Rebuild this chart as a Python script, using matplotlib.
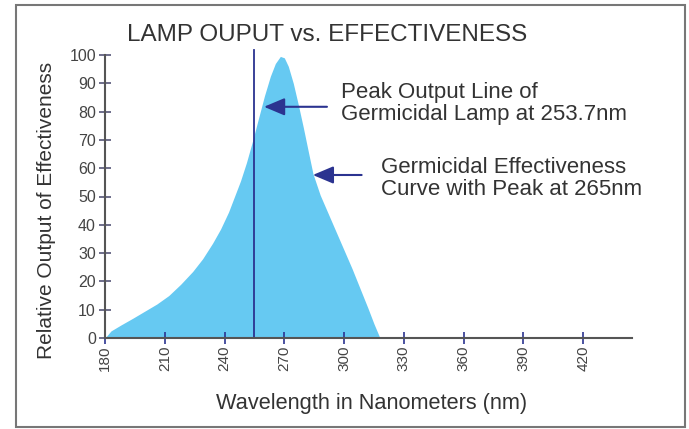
import matplotlib
matplotlib.use("Agg")
import matplotlib.pyplot as plt
from matplotlib.patches import Rectangle

plt.rcParams['font.family'] = ['Liberation Sans', 'DejaVu Sans']

# germicidal effectiveness curve
wavelength = [180, 183, 188, 194, 200, 206, 212, 218, 224, 229, 234, 238, 242,
              245, 248, 251, 254, 257, 260, 263, 265.5, 268, 270, 272, 274.5,
              277, 279.5, 282, 284.4, 288, 292, 296, 300, 304, 308, 312, 315, 318]
effectiveness = [0, 2.5, 4.6, 7, 9.5, 12, 15, 19, 23.5, 28, 33.5, 38.5, 44.5,
                 50, 55.5, 62, 69.5, 77.5, 85.5, 92.5, 97, 99.5, 99, 96, 90,
                 82.5, 74.5, 66, 58, 50.5, 44, 37.5, 31, 24.5, 17.5, 10.5, 5, 0]

lamp_peak = 255          # drawn position of the 253.7nm line
x_ticks = [180, 210, 240, 270, 300, 330, 360, 390, 420]
y_ticks = [0, 10, 20, 30, 40, 50, 60, 70, 80, 90, 100]

title = "LAMP OUPUT vs. EFFECTIVENESS"
note1 = "Peak Output Line of\nGermicidal Lamp at 253.7nm"
note2 = "Germicidal Effectiveness\nCurve with Peak at 265nm"

fill_col = '#66c9f2'
navy = '#2b3390'
grey = '#444444'

fig = plt.figure(figsize=(6.89, 4.29), dpi=100)
ax = fig.add_axes([105/689, 1-338/429, (632-105)/689, (338-55)/429])

ax.fill_between(wavelength, effectiveness, 0, color=fill_col, lw=0)
ax.plot([lamp_peak, lamp_peak], [0, 101.8], color=navy, lw=1.3, clip_on=False, zorder=3)

ax.set_xlim(180, 444.5)
ax.set_ylim(0, 100)
for s in ['top', 'right']:
    ax.spines[s].set_visible(False)
for s in ['left', 'bottom']:
    ax.spines[s].set_color('#555555')
    ax.spines[s].set_linewidth(1.5)
    ax.spines[s].set_zorder(4)

ax.set_xticks(x_ticks)
ax.set_xticklabels([str(v) for v in x_ticks], rotation=90)
ax.set_yticks(y_ticks)
ax.tick_params(axis='x', direction='inout', length=9, width=1.2, color=navy,
               labelsize=11, labelcolor=grey, pad=1)
ax.tick_params(axis='y', direction='inout', length=9, width=1.2, color='#555577',
               labelsize=11.5, labelcolor=grey, pad=2)

arrow = dict(arrowstyle='-|>,head_length=0.9,head_width=0.38', color=navy, lw=1.5,
             shrinkA=0, shrinkB=0, mutation_scale=14)
ax.annotate('', xy=(259.8, 81.7), xytext=(291.4, 81.7), arrowprops=arrow)
ax.annotate('', xy=(284.3, 57.6), xytext=(308.8, 57.6), arrowprops=arrow)

ax.text(298.4, 82.9, note1, ha='left', va='center', fontsize=16, color='#333333',
        linespacing=1.05)
ax.text(318.5, 56.5, note2, ha='left', va='center', fontsize=16, color='#333333',
        linespacing=1.05)

fig.text(327/689, 1-35/429, title, ha='center', va='center', fontsize=17.5, color='#333333')
fig.text(47/689, 1-210/429, "Relative Output of Effectiveness", rotation=90,
         ha='center', va='center', fontsize=15, color='#333333')
fig.text(372/689, 1-403/429, "Wavelength in Nanometers (nm)", ha='center', va='center',
         fontsize=15.7, color='#333333')

fig.patches.append(Rectangle((16/689, 1-427/429), (685-16)/689, (427-5)/429,
                             transform=fig.transFigure, fill=False,
                             ec='#777777', lw=1.5))

fig.savefig('out.png', dpi=100)
